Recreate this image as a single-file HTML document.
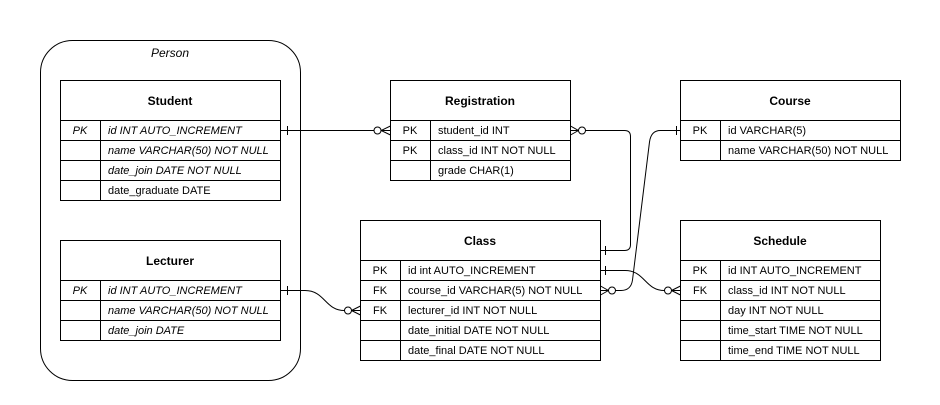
<!DOCTYPE html>
<html><head><meta charset="utf-8"><style>
html,body{margin:0;padding:0;background:#fff;}
svg text{font-family:"Liberation Sans",Arial,sans-serif;font-size:11px;fill:#000;}
.h{font-weight:bold;font-size:12px;}
.i{font-style:italic;}
</style></head><body>
<svg width="940" height="400" viewBox="0 0 940 400" xmlns="http://www.w3.org/2000/svg">
<g fill="none" stroke="#000" stroke-width="1">
<rect x="40.5" y="40.5" width="260" height="340" rx="32" ry="32"/>
<!-- Student -->
<rect x="60.5" y="80.5" width="220" height="120"/>
<path d="M60.5 120.5H280.5M60.5 140.5H280.5M60.5 160.5H280.5M60.5 180.5H280.5M100.5 120.5V200.5"/>
<!-- Lecturer -->
<rect x="60.5" y="240.5" width="220" height="100"/>
<path d="M60.5 280.5H280.5M60.5 300.5H280.5M60.5 320.5H280.5M100.5 280.5V340.5"/>
<!-- Registration -->
<rect x="390.5" y="80.5" width="180" height="100"/>
<path d="M390.5 120.5H570.5M390.5 140.5H570.5M390.5 160.5H570.5M430.5 120.5V180.5"/>
<!-- Course -->
<rect x="680.5" y="80.5" width="220" height="80"/>
<path d="M680.5 120.5H900.5M680.5 140.5H900.5M720.5 120.5V160.5"/>
<!-- Class -->
<rect x="360.5" y="220.5" width="240" height="140"/>
<path d="M360.5 260.5H600.5M360.5 280.5H600.5M360.5 300.5H600.5M360.5 320.5H600.5M360.5 340.5H600.5M400.5 260.5V360.5"/>
<!-- Schedule -->
<rect x="680.5" y="220.5" width="200" height="140"/>
<path d="M680.5 260.5H880.5M680.5 280.5H880.5M680.5 300.5H880.5M680.5 320.5H880.5M680.5 340.5H880.5M720.5 260.5V360.5"/>

<!-- Student -> Registration -->
<path d="M280.5 130.5H374"/><path d="M287.5 126V135"/>
<circle cx="377.5" cy="130.5" r="3.5"/><path d="M381 130.5L390.5 126M381 130.5L390.5 135M381 130.5H390.5"/>
<!-- Registration -> Class -->
<path d="M585.5 130.5H624.5Q630.5 130.5 630.5 136.5V244.5Q630.5 250.5 624.5 250.5H600.5"/>
<circle cx="582" cy="130.5" r="3.5"/><path d="M578.5 130.5L570.5 126M578.5 130.5L570.5 135M578.5 130.5H570.5"/>
<path d="M605.5 246V255"/>
<!-- Course -> Class -->
<path d="M680.5 130.5H660.5Q651 130.5 649.5 142L632.5 280Q631 290.5 621 290.5H615.5"/>
<path d="M676.5 126V135"/>
<circle cx="612" cy="290.5" r="3.5"/><path d="M608.5 290.5L600.5 286M608.5 290.5L600.5 295M608.5 290.5H600.5"/>
<!-- Class -> Schedule -->
<path d="M600.5 270.5H625C645 270.5 645 290.5 664.5 290.5"/><path d="M605.5 266V275"/>
<circle cx="668" cy="290.5" r="3.5"/><path d="M671.5 290.5L680.5 286M671.5 290.5L680.5 295M671.5 290.5H680.5"/>
<!-- Lecturer -> Class -->
<path d="M280.5 290.5H305C325 290.5 325 310.5 344.5 310.5"/><path d="M287.5 286V295"/>
<circle cx="348" cy="310.5" r="3.5"/><path d="M351.5 310.5L360.5 306M351.5 310.5L360.5 315M351.5 310.5H360.5"/>
</g>

<text x="170" y="57" text-anchor="middle" class="i" style="font-size:12px">Person</text>

<text x="170" y="105" text-anchor="middle" class="h">Student</text>
<text x="80" y="134" text-anchor="middle" class="i">PK</text>
<text x="108" y="134" class="i">id INT AUTO_INCREMENT</text>
<text x="108" y="154" class="i">name VARCHAR(50) NOT NULL</text>
<text x="108" y="174" class="i">date_join DATE NOT NULL</text>
<text x="108" y="194">date_graduate DATE</text>

<text x="170" y="265" text-anchor="middle" class="h">Lecturer</text>
<text x="80" y="294" text-anchor="middle" class="i">PK</text>
<text x="108" y="294" class="i">id INT AUTO_INCREMENT</text>
<text x="108" y="314" class="i">name VARCHAR(50) NOT NULL</text>
<text x="108" y="334" class="i">date_join DATE</text>

<text x="480" y="105" text-anchor="middle" class="h">Registration</text>
<text x="410" y="134" text-anchor="middle">PK</text>
<text x="438" y="134">student_id INT</text>
<text x="410" y="154" text-anchor="middle">PK</text>
<text x="438" y="154">class_id INT NOT NULL</text>
<text x="438" y="174">grade CHAR(1)</text>

<text x="790" y="105" text-anchor="middle" class="h">Course</text>
<text x="700" y="134" text-anchor="middle">PK</text>
<text x="728" y="134">id VARCHAR(5)</text>
<text x="728" y="154">name VARCHAR(50) NOT NULL</text>

<text x="480" y="245" text-anchor="middle" class="h">Class</text>
<text x="380" y="274" text-anchor="middle">PK</text>
<text x="408" y="274">id int AUTO_INCREMENT</text>
<text x="380" y="294" text-anchor="middle">FK</text>
<text x="408" y="294">course_id VARCHAR(5) NOT NULL</text>
<text x="380" y="314" text-anchor="middle">FK</text>
<text x="408" y="314">lecturer_id INT NOT NULL</text>
<text x="408" y="334">date_initial DATE NOT NULL</text>
<text x="408" y="354">date_final DATE NOT NULL</text>

<text x="780" y="245" text-anchor="middle" class="h">Schedule</text>
<text x="700" y="274" text-anchor="middle">PK</text>
<text x="728" y="274">id INT AUTO_INCREMENT</text>
<text x="700" y="294" text-anchor="middle">FK</text>
<text x="728" y="294">class_id INT NOT NULL</text>
<text x="728" y="314">day INT NOT NULL</text>
<text x="728" y="334">time_start TIME NOT NULL</text>
<text x="728" y="354">time_end TIME NOT NULL</text>
</svg>
</body></html>
